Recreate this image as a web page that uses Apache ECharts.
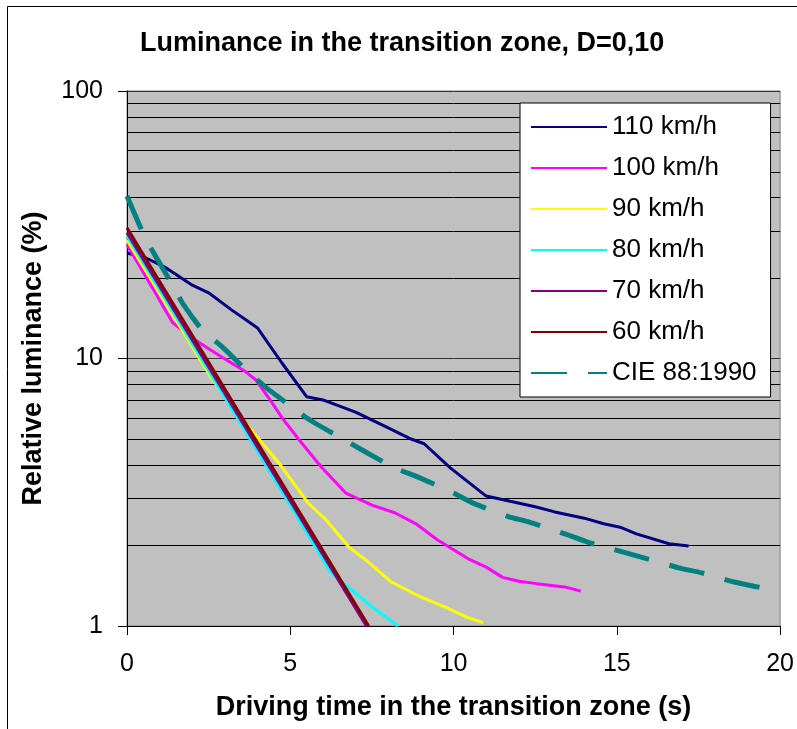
<!DOCTYPE html>
<html>
<head>
<meta charset="utf-8">
<script src="https://cdn.jsdelivr.net/npm/echarts@6/dist/echarts.min.js"></script>
<style>
  html, body { margin: 0; padding: 0; background: #fff; }
  #chart { width: 797px; height: 729px; }
</style>
</head>
<body>
<div id="chart"></div>
<script>
// driving time (s) and relative luminance (%) per speed
const t110 = [0, 0.6, 1.2, 2.0, 2.5, 3.2, 4.0, 4.75, 5.5, 6.0, 7.0, 8.0, 8.7, 9.1, 9.9, 11.0, 12.5, 13.1, 14.0, 14.6, 15.1, 15.6, 16.6, 17.2]
const v110 = [24.8, 23.7, 21.8, 18.8, 17.6, 15.2, 13.0, 9.6, 7.2, 7.0, 6.3, 5.5, 5.0, 4.8, 3.9, 3.06, 2.79, 2.67, 2.53, 2.41, 2.34, 2.21, 2.03, 1.99]
const t100 = [0, 0.8, 1.4, 2.1, 2.8, 3.65, 3.95, 4.35, 4.75, 5.25, 5.95, 6.7, 7.5, 8.2, 8.85, 9.5, 10.5, 11.0, 11.5, 12.0, 12.55, 13.4, 13.9]
const v100 = [26.6, 18.2, 13.6, 11.7, 10.3, 8.9, 8.3, 7.1, 6.0, 5.0, 3.93, 3.14, 2.83, 2.65, 2.41, 2.10, 1.77, 1.66, 1.52, 1.47, 1.44, 1.40, 1.35]
const t90 = [0, 2.6, 3.5, 4.65, 5.55, 6.1, 6.8, 7.3, 8.1, 8.9, 9.8, 10.4, 10.9]
const v90 = [27.7, 8.4, 6.0, 4.07, 2.88, 2.49, 1.97, 1.77, 1.46, 1.30, 1.17, 1.08, 1.03]
const t80 = [0, 6.25, 6.8, 7.5, 8.3]
const v80 = [28.7, 1.58, 1.39, 1.18, 1.0]
const t70 = [0, 7.33]
const v70 = [29.5, 1.0]
const t60 = [0, 7.4]
const v60 = [30.8, 1.0]
const tCie = [0, 0.45, 0.8, 1.3, 1.7, 2.3, 2.9, 3.65, 4.25, 5.05, 5.6, 6.55, 7.2, 8.2, 8.9, 10.0, 10.6, 11.7, 12.3, 13.5, 14.1, 15.2, 15.8, 16.9, 17.6, 18.6, 19.3, 20]
const vCie = [40.5, 30.2, 25.0, 19.7, 16.1, 12.8, 11.1, 9.06, 7.8, 6.59, 5.89, 5.05, 4.55, 3.9, 3.61, 3.14, 2.88, 2.56, 2.45, 2.19, 2.06, 1.89, 1.80, 1.65, 1.58, 1.46, 1.40, 1.34]

const seriesNames = ['110 km/h', '100 km/h', '90 km/h', '80 km/h', '70 km/h', '60 km/h', 'CIE 88:1990']
// minor horizontal grid lines of the log axis
const minorGrid = [2, 3, 4, 5, 6, 7, 8, 9, 20, 30, 40, 50, 60, 70, 80, 90]

const font = 'Liberation Sans, Arial, sans-serif'

function pairs(ts, vs) {
  return ts.map((t, i) => [t, vs[i]])
}

function curve(name, ts, vs, color, extra) {
  return Object.assign({
    name: name,
    type: 'line',
    data: pairs(ts, vs),
    symbol: 'none',
    showSymbol: false,
    z: 3,
    lineStyle: { color: color, width: 3 },
    itemStyle: { color: color }
  }, extra || {})
}

const chart = echarts.init(document.getElementById('chart'))
chart.setOption({
  animation: false,
  backgroundColor: '#fff',
  textStyle: { fontFamily: font },
  graphic: [{
    type: 'rect',
    shape: { x: 7.5, y: 6.5, width: 1000, height: 1000 },
    style: { fill: 'none', stroke: '#000', lineWidth: 1 },
    silent: true
  }],
  title: {
    text: 'Luminance in the transition zone, D=0,10',
    left: 140,
    top: 30,
    padding: 0,
    textStyle: { fontSize: 27, fontWeight: 'bold', color: '#000', fontFamily: font }
  },
  legend: {
    orient: 'vertical',
    left: 520,
    top: 103,
    padding: [11, 14, 11, 10],
    itemWidth: 76,
    itemHeight: 5,
    itemGap: 15,
    backgroundColor: '#fff',
    borderColor: '#000',
    borderWidth: 1,
    data: seriesNames,
    itemStyle: { opacity: 0 },
    textStyle: { fontSize: 26, color: '#000', fontFamily: font }
  },
  grid: {
    left: 127,
    right: 14,
    top: 91,
    bottom: 103,
    show: true,
    backgroundColor: '#C0C0C0',
    borderColor: '#808080',
    borderWidth: 1
  },
  xAxis: {
    type: 'value',
    min: 0,
    max: 20,
    interval: 5,
    name: 'Driving time in the transition zone (s)',
    nameLocation: 'middle',
    nameGap: 68,
    nameTextStyle: { fontSize: 27, fontWeight: 'bold', color: '#000', fontFamily: font },
    axisLine: { lineStyle: { color: '#000', width: 1 } },
    axisTick: { show: true, length: 9, lineStyle: { color: '#000' } },
    axisLabel: { fontSize: 25, color: '#000', margin: 26, fontFamily: font },
    splitLine: { show: false }
  },
  yAxis: {
    type: 'log',
    logBase: 10,
    min: 1,
    max: 100,
    name: 'Relative luminance (%)',
    nameLocation: 'middle',
    nameRotate: 90,
    nameGap: 80,
    nameTextStyle: { fontSize: 27, fontWeight: 'bold', color: '#000', fontFamily: font },
    axisLine: { show: true, lineStyle: { color: '#000', width: 1 } },
    axisTick: { show: true, length: 9, lineStyle: { color: '#000' } },
    axisLabel: { fontSize: 25, color: '#000', margin: 24, fontFamily: font },
    splitLine: { show: true, lineStyle: { color: '#333', width: 1 } }
  },
  series: [
    {
      type: 'custom',
      silent: true,
      z: 1,
      data: minorGrid.map(v => [v]),
      encode: { y: 0 },
      renderItem: function (params, api) {
        const v = api.value(0)
        const a = api.coord([0, v])
        const b = api.coord([20, v])
        const y = Math.round(a[1]) + 0.5
        return {
          type: 'line',
          shape: { x1: a[0], y1: y, x2: b[0], y2: y },
          style: { stroke: '#000', lineWidth: 1 }
        }
      }
    },
    curve('110 km/h', t110, v110, '#000080'),
    curve('100 km/h', t100, v100, '#FF00FF'),
    curve('90 km/h', t90, v90, '#FFFF00'),
    curve('80 km/h', t80, v80, '#00FFFF'),
    curve('70 km/h', t70, v70, '#800080'),
    curve('60 km/h', t60, v60, '#800000'),
    curve('CIE 88:1990', tCie, vCie, '#008080', {
      smooth: 0.2,
      lineStyle: { color: '#008080', width: 5, type: [36, 21] }
    })
  ]
})
</script>
</body>
</html>
